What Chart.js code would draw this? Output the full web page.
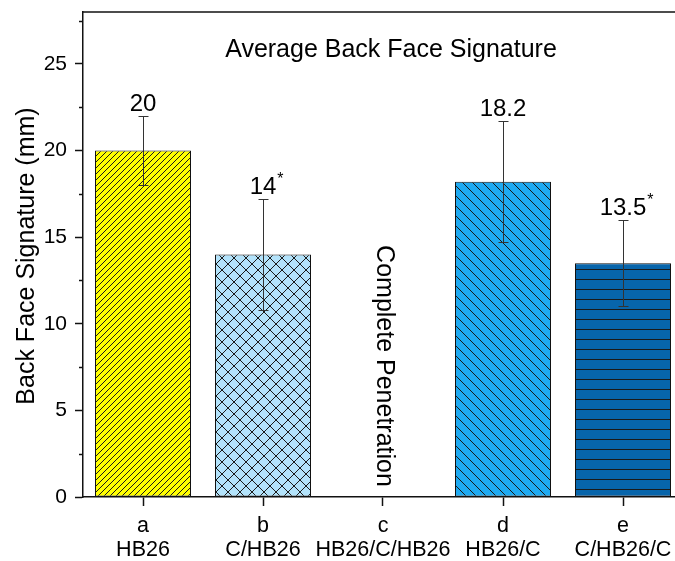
<!DOCTYPE html>
<html>
<head>
<meta charset="utf-8">
<script src="https://cdn.jsdelivr.net/npm/chart.js@4"></script>
<style>
  html, body { margin: 0; padding: 0; background: #fff; overflow: hidden; }
  #wrap { width: 675px; height: 561px; }
</style>
</head>
<body>
<div id="wrap"><canvas id="chart"></canvas></div>
<script>
// --- data ---
const letters = ['a', 'b', 'c', 'd', 'e'];
const samples = ['HB26', 'C/HB26', 'HB26/C/HB26', 'HB26/C', 'C/HB26/C'];
const bfs = [20, 14, null, 18.2, 13.5];     // mm, c = complete penetration
const errs = [2, 3.2, null, 3.5, 2.5];
const marks = ['', '*', '', '', '*'];
const yTicks = [0, 5, 10, 15, 20, 25];
const yMinor = [2.5, 7.5, 12.5, 17.5, 22.5, 27.5];

const FONT = '"Liberation Sans", Arial, sans-serif';

// hatch fills
function hatch(bg, kind) {
  const size = { fwd: 6, cross: 12, back: 10, horiz: 10 }[kind];
  const c = document.createElement('canvas');
  c.width = size; c.height = size;
  const g = c.getContext('2d');
  g.fillStyle = bg;
  g.fillRect(0, 0, size, size);
  g.strokeStyle = '#1a1a1a';
  g.lineWidth = 1;
  g.beginPath();
  if (kind === 'fwd' || kind === 'cross') {
    g.moveTo(-1, size + 1); g.lineTo(size + 1, -1);
    g.moveTo(-1, 1); g.lineTo(1, -1);
    g.moveTo(size - 1, size + 1); g.lineTo(size + 1, size - 1);
  }
  if (kind === 'back' || kind === 'cross') {
    g.moveTo(-1, -1); g.lineTo(size + 1, size + 1);
    g.moveTo(size - 1, -1); g.lineTo(size + 1, 1);
    g.moveTo(-1, size - 1); g.lineTo(1, size + 1);
  }
  if (kind === 'horiz') {
    g.moveTo(0, size - 0.5); g.lineTo(size, size - 0.5);
  }
  g.stroke();
  return g.createPattern(c, 'repeat');
}

const fills = [
  hatch('#ffff00', 'fwd'),
  hatch('#b3e3fb', 'cross'),
  '#ffffff',
  hatch('#1eaaf2', 'back'),
  hatch('#0765ab', 'horiz')
];

const extras = {
  id: 'extras',
  afterDatasetsDraw(chart) {
    const { ctx, chartArea, scales: { x, y } } = chart;
    ctx.save();

    // top frame line
    ctx.strokeStyle = '#111';
    ctx.lineWidth = 1.5;
    ctx.beginPath();
    ctx.moveTo(chartArea.left, chartArea.top);
    ctx.lineTo(chartArea.right, chartArea.top);
    ctx.stroke();

    // minor y ticks
    yMinor.forEach(v => {
      const py = Math.round(y.getPixelForValue(v)) + 0.5;
      ctx.beginPath();
      ctx.moveTo(chartArea.left - 4, py);
      ctx.lineTo(chartArea.left, py);
      ctx.stroke();
    });

    // error bars
    ctx.strokeStyle = '#333';
    ctx.lineWidth = 1;
    bfs.forEach((v, i) => {
      if (v == null) return;
      const px = Math.round(x.getPixelForValue(i)) + 0.5;
      const hi = Math.round(y.getPixelForValue(v + errs[i])) + 0.5;
      const lo = Math.round(y.getPixelForValue(v - errs[i])) + 0.5;
      ctx.beginPath();
      ctx.moveTo(px, hi); ctx.lineTo(px, lo);
      ctx.moveTo(px - 5, hi); ctx.lineTo(px + 5, hi);
      ctx.moveTo(px - 5, lo); ctx.lineTo(px + 5, lo);
      ctx.stroke();
    });

    // value labels
    ctx.fillStyle = '#000';
    ctx.textBaseline = 'alphabetic';
    bfs.forEach((v, i) => {
      if (v == null) return;
      const px = x.getPixelForValue(i);
      const py = y.getPixelForValue(v + errs[i]) - 5;
      ctx.font = '24px ' + FONT;
      ctx.textAlign = 'center';
      const txt = String(v);
      ctx.fillText(txt, px, py);
      if (marks[i]) {
        const w = ctx.measureText(txt).width;
        ctx.font = '16px ' + FONT;
        ctx.textAlign = 'left';
        ctx.fillText(marks[i], px + w / 2 + 1, py - 10);
      }
    });

    // plot title
    ctx.font = '25px ' + FONT;
    ctx.textAlign = 'center';
    ctx.textBaseline = 'middle';
    ctx.fillText('Average Back Face Signature', 391, 50);

    // complete penetration note on bar c
    ctx.save();
    ctx.translate(x.getPixelForValue(2) + 1, 366);
    ctx.rotate(Math.PI / 2);
    ctx.font = '25px ' + FONT;
    ctx.fillText('Complete Penetration', 0, 0);
    ctx.restore();

    // y axis title
    ctx.save();
    ctx.translate(27, 256);
    ctx.rotate(-Math.PI / 2);
    ctx.font = '25px ' + FONT;
    ctx.fillText('Back Face Signature (mm)', 0, 0);
    ctx.restore();

    // x labels: letter + sample
    ctx.font = '21.5px ' + FONT;
    ctx.textBaseline = 'alphabetic';
    letters.forEach((l, i) => {
      const px = x.getPixelForValue(i);
      ctx.fillText(l, px, 532);
      ctx.fillText(samples[i], px, 556);
    });

    ctx.restore();
  }
};

new Chart(document.getElementById('chart'), {
  type: 'bar',
  data: {
    datasets: [{
      data: bfs.map((v, i) => ({ x: i, y: v })),
      backgroundColor: fills,
      borderColor: '#111',
      borderWidth: 1,
      borderSkipped: false,
      categoryPercentage: 1,
      barPercentage: 0.8
    }]
  },
  options: {
    responsive: true,
    maintainAspectRatio: false,
    animation: false,
    layout: { padding: { top: 12, right: 0, left: 0, bottom: 0 } },
    plugins: { legend: { display: false }, tooltip: { enabled: false } },
    scales: {
      x: {
        type: 'linear',
        offset: false,
        // 120 px per category; the original axis runs on past the right edge
        min: -0.5,
        max: -0.5 + 592 / 120,
        afterBuildTicks: s => { s.ticks = letters.map((l, i) => ({ value: i })); },
        ticks: { display: false },
        grid: { drawOnChartArea: false, drawTicks: true, tickLength: 9, tickColor: '#111', tickWidth: 1.5, offset: false },
        border: { display: true, color: '#111', width: 1.5 },
        afterFit: s => { s.height = 64; s.paddingLeft = 0; s.paddingRight = 0; }
      },
      y: {
        min: 0,
        max: 28,
        afterBuildTicks: s => { s.ticks = yTicks.map(v => ({ value: v })); },
        ticks: { color: '#000', font: { family: FONT, size: 21 }, padding: 8 },
        grid: { drawOnChartArea: false, drawTicks: true, tickLength: 8, tickColor: '#111', tickWidth: 1.5 },
        border: { display: true, color: '#111', width: 1.5 },
        afterFit: s => { s.width = 83; s.paddingTop = 0; s.paddingBottom = 0; }
      }
    }
  },
  plugins: [extras]
});
</script>
</body>
</html>
